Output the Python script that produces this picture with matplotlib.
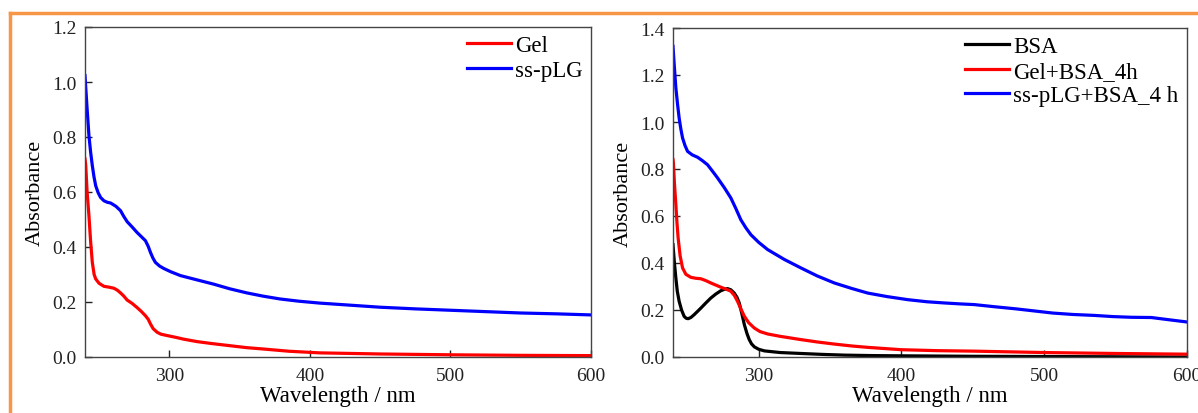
import numpy as np
import matplotlib
matplotlib.use('Agg')
import matplotlib.pyplot as plt
from matplotlib.lines import Line2D

plt.rcParams['font.family'] = ['Liberation Serif', 'DejaVu Serif']

# Left panel: Gel and ss-pLG
wl_gel = [240, 240.5, 241.5, 242.8, 244, 245.2, 246.5, 247.6, 250, 253.5, 257, 260.6, 263,
          265.3, 267.5, 270, 273.5, 277, 280, 283, 285, 286.6, 288.5, 291.3, 294, 298.4,
          305, 310, 319.7, 330, 343.3, 355, 367, 385, 407, 450, 500, 550, 600]
abs_gel = [0.72, 0.70, 0.60, 0.514, 0.42, 0.344, 0.30, 0.284, 0.268, 0.257, 0.254, 0.25, 0.243,
           0.233, 0.222, 0.207, 0.195, 0.18, 0.166, 0.15, 0.137, 0.12, 0.103, 0.09, 0.083, 0.078,
           0.071, 0.065, 0.056, 0.049, 0.041, 0.034, 0.029, 0.021, 0.015, 0.011, 0.008, 0.006, 0.005]

wl_sspl = [240, 241.4, 242.8, 244, 245.2, 246.4, 247.6, 249.3, 251.1, 253.5, 255.9, 258.2,
           262, 265.3, 267.5, 270, 273.5, 277, 280, 283, 285, 286.6, 288.3, 290.1, 293,
           296, 301, 307.9, 320, 331.5, 343, 355.2, 367, 378.8, 392, 407, 430, 450, 475,
           500, 525, 550, 575, 600]
abs_sspl = [1.023, 0.91, 0.805, 0.745, 0.696, 0.655, 0.623, 0.598, 0.58, 0.568, 0.5625, 0.56,
            0.548, 0.532, 0.512, 0.492, 0.473, 0.453, 0.438, 0.423, 0.402, 0.38, 0.36, 0.344,
            0.331, 0.322, 0.31, 0.296, 0.28, 0.265, 0.248, 0.233, 0.221, 0.211, 0.203, 0.196,
            0.188, 0.181, 0.175, 0.17, 0.165, 0.16, 0.157, 0.153]

# Right panel: BSA, Gel+BSA_4h, ss-pLG+BSA_4 h
wl_bsa = [240, 241, 242, 243, 244.3, 246, 247.8, 249.2, 250.6, 252.5, 254.8, 257, 259.5,
          263, 266.5, 270, 273.5, 276, 278.2, 280.5, 282.9, 284.8, 286.4, 288.2, 290, 291.8,
          293.4, 295, 297, 300, 304, 315, 329.6, 345, 360, 380, 400, 450, 500, 550, 600]
abs_bsa = [0.478, 0.40, 0.336, 0.28, 0.237, 0.2, 0.173, 0.165, 0.163, 0.168, 0.18, 0.193, 0.208,
           0.23, 0.251, 0.268, 0.282, 0.288, 0.291, 0.286, 0.272, 0.254, 0.23, 0.185, 0.137,
           0.1, 0.074, 0.056, 0.043, 0.033, 0.026, 0.019, 0.015, 0.011, 0.008, 0.006, 0.005,
           0.003, 0.002, 0.001, 0.0]

wl_gelbsa = [240, 240.3, 241, 242, 242.8, 243.6, 245, 246.7, 249, 252.5, 256, 259.5, 263,
             266.5, 270, 273.5, 277, 280.5, 283, 285.2, 287.5, 290, 293, 297, 301, 306.3,
             315, 329.6, 341, 353, 365, 376.4, 400, 425, 450, 475, 500, 550, 600]
abs_gelbsa = [0.84, 0.826, 0.74, 0.648, 0.57, 0.506, 0.43, 0.379, 0.352, 0.339, 0.335, 0.333,
              0.325, 0.315, 0.306, 0.297, 0.289, 0.28, 0.262, 0.237, 0.205, 0.173, 0.146, 0.123,
              0.108, 0.098, 0.088, 0.074, 0.064, 0.055, 0.047, 0.041, 0.031, 0.027, 0.025,
              0.022, 0.019, 0.015, 0.012]

wl_ssbsa = [240, 241, 242, 243.2, 244.3, 245.5, 246.7, 248.4, 250.2, 253.5, 257.2, 260.5,
            264.2, 267.5, 271.2, 276, 280.5, 284, 287.5, 291, 294.6, 300, 306.3, 318,
            329.6, 341, 353, 365, 376.4, 390, 404.4, 418, 430, 441, 451, 465, 480, 493,
            506, 520, 535, 548, 561, 575, 588, 600]
abs_ssbsa = [1.322, 1.23, 1.145, 1.075, 1.017, 0.97, 0.932, 0.9, 0.875, 0.86, 0.85, 0.836,
             0.818, 0.792, 0.762, 0.72, 0.677, 0.632, 0.584, 0.55, 0.52, 0.488, 0.457, 0.415,
             0.379, 0.345, 0.315, 0.292, 0.272, 0.257, 0.244, 0.235, 0.23, 0.226, 0.223,
             0.214, 0.205, 0.196, 0.187, 0.181, 0.177, 0.172, 0.169, 0.168, 0.158, 0.149]

fig = plt.figure(figsize=(11.98, 4.14), dpi=100)
W, H = 1198, 414

def px_axes(x0, y0, x1, y1):
    return fig.add_axes([x0 / W, 1 - y1 / H, (x1 - x0) / W, (y1 - y0) / H])

ax1 = px_axes(85, 28, 591, 358)
ax2 = px_axes(673, 29, 1187, 358)

lw = 2.3
ax1.plot(wl_gel, abs_gel, color='#ff0000', lw=lw, label='Gel')
ax1.plot(wl_sspl, abs_sspl, color='#0000ff', lw=lw, label='ss-pLG')
ax1.set_ylim(0, 1.2)
ax1.set_yticks(np.arange(0, 1.21, 0.2))

ax2.plot(wl_bsa, abs_bsa, color='black', lw=lw, label='BSA')
ax2.plot(wl_gelbsa, abs_gelbsa, color='#ff0000', lw=lw, label='Gel+BSA_4h')
ax2.plot(wl_ssbsa, abs_ssbsa, color='#0000ff', lw=lw, label='ss-pLG+BSA_4 h')
ax2.set_ylim(0, 1.4)
ax2.set_yticks(np.arange(0, 1.41, 0.2))

for ax, lx in [(ax1, (467 - 85) / 506), (ax2, (965 - 673) / 514)]:
    ax.set_xlim(240, 600)
    ax.set_xticks([300, 400, 500, 600])
    ax.yaxis.set_major_formatter(matplotlib.ticker.FormatStrFormatter('%.1f'))
    ax.tick_params(direction='in', length=5, width=1, colors='#222222',
                   labelsize=14, top=False, right=False, pad=6)
    ax.tick_params(axis='x', pad=7)
    for s in ax.spines.values():
        s.set_color('#444444')
        s.set_linewidth(1)
    ax.set_xlabel('Wavelength / nm', fontsize=16.5, labelpad=1)
    ax.set_ylabel('Absorbance', fontsize=16, labelpad=5)
    ax.legend(loc='upper left', bbox_to_anchor=(lx, 0.975), frameon=False,
              fontsize=16.5, borderpad=0, borderaxespad=0, handlelength=1.9,
              handletextpad=0.2, labelspacing=0.15)

# orange frame around the figure
orange = '#f79646'
fig.add_artist(Line2D([10 / W, 10 / W], [0, 1 - 13.5 / H], color=orange, lw=2.5,
                      transform=fig.transFigure))
fig.add_artist(Line2D([10 / W, 1], [1 - 13.5 / H, 1 - 13.5 / H], color=orange, lw=2.5,
                      transform=fig.transFigure))

fig.savefig('out.png', dpi=100)
